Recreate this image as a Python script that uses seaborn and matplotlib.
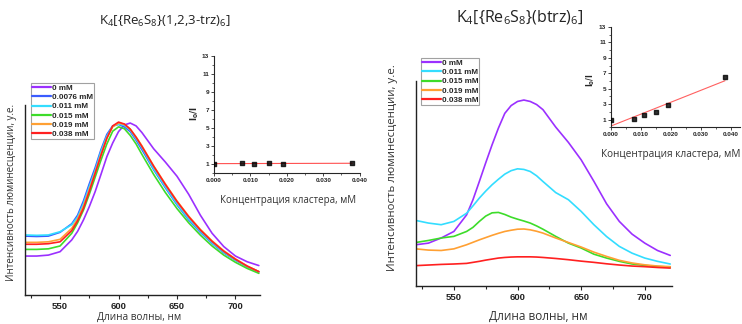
import numpy as np
import pandas as pd
import matplotlib
matplotlib.use('Agg')
import matplotlib.pyplot as plt
import seaborn as sns
from matplotlib.ticker import MultipleLocator, FormatStrFormatter

# wavelength grid, nm
nm = [520, 530, 540, 550, 560, 565, 570, 575, 580, 585, 590, 595, 600, 605,
      610, 615, 620, 630, 640, 650, 660, 670, 680, 690, 700, 710, 720]

# K4[{Re6S8}(1,2,3-trz)6] spectra, arb. units
trz_labels = ['0 mM', '0.0076 mM', '0.011 mM', '0.015 mM', '0.019 mM', '0.038 mM']
trz_0 = [.205, .205, .21, .228, .29, .335, .395, .465, .544, .635, .728, .80, .86, .895,
         .905, .89, .855, .77, .70, .625, .53, .42, .325, .255, .205, .175, .155]
trz_0076 = [.31, .308, .31, .33, .375, .42, .495, .585, .67, .765, .845, .89, .898, .885,
            .86, .815, .765, .66, .565, .475, .395, .33, .272, .222, .183, .15, .122]
trz_011 = [.316, .314, .316, .333, .37, .41, .48, .57, .655, .755, .835, .888, .90, .893,
           .868, .822, .775, .665, .57, .48, .40, .335, .275, .225, .185, .15, .122]
trz_015 = [.24, .24, .243, .258, .325, .38, .447, .53, .62, .71, .795, .862, .885, .875,
           .84, .795, .74, .635, .54, .455, .38, .315, .258, .21, .172, .14, .114]
trz_019 = [.277, .277, .28, .293, .351, .40, .468, .555, .645, .74, .825, .885, .905, .898,
           .873, .832, .785, .68, .585, .495, .415, .345, .285, .233, .19, .153, .123]
trz_038 = [.267, .267, .27, .28, .339, .39, .456, .545, .64, .735, .825, .89, .91, .9,
           .873, .83, .782, .678, .582, .492, .412, .342, .282, .23, .188, .152, .123]

# K4[{Re6S8}(btrz)6] spectra, arb. units
btrz_labels = ['0 mM', '0.011 mM', '0.015 mM', '0.019 mM', '0.038 mM']
btrz_0 = [.20, .208, .233, .265, .346, .42, .509, .60, .688, .77, .842, .88, .90, .907,
          .90, .885, .86, .775, .70, .615, .51, .40, .314, .252, .208, .172, .148]
btrz_011 = [.319, .306, .298, .314, .354, .39, .428, .462, .493, .52, .545, .562, .571, .568,
            .558, .537, .509, .455, .42, .363, .298, .24, .192, .159, .135, .119, .106]
btrz_015 = [.211, .221, .233, .241, .265, .285, .314, .34, .356, .358, .348, .335, .325, .316,
            .306, .292, .276, .241, .208, .184, .154, .135, .119, .106, .099, .094, .091]
btrz_019 = [.18, .174, .172, .18, .20, .212, .224, .235, .246, .256, .265, .271, .276, .277,
            .273, .266, .257, .233, .211, .189, .164, .143, .124, .111, .102, .096, .093]
btrz_038 = [.098, .101, .104, .106, .109, .114, .119, .125, .13, .135, .138, .14, .141, .141,
            .141, .14, .138, .133, .127, .12, .114, .107, .101, .096, .093, .089, .086]

# Stern-Volmer insets: I0/I vs cluster concentration, mM
conc = [0.0, 0.0076, 0.011, 0.015, 0.019, 0.038]
sv_trz = [1.0, 1.06, 1.05, 1.12, 1.05, 1.06]
sv_btrz = [1.0, 1.1, 1.6, 1.95, 2.85, 6.5]

pal_trz = ['#9b30ff', '#3a5cff', '#33ddff', '#3ddc2a', '#ffa033', '#ff2020']
pal_btrz = ['#9b30ff', '#33ddff', '#3ddc2a', '#ffa033', '#ff2020']


def long_df(curves, labels):
    rows = []
    for lab, vals in zip(labels, curves):
        for w, v in zip(nm, vals):
            rows.append((w, v, lab))
    return pd.DataFrame(rows, columns=['nm', 'I', 'conc'])


df_trz = long_df([trz_0, trz_0076, trz_011, trz_015, trz_019, trz_038], trz_labels)
df_btrz = long_df([btrz_0, btrz_011, btrz_015, btrz_019, btrz_038], btrz_labels)
sv = pd.DataFrame({'c': conc, 'trz': sv_trz, 'btrz': sv_btrz})

sns.set_style('ticks')
plt.rcParams['font.family'] = ['Open Sans', 'DejaVu Sans']
plt.rcParams['mathtext.default'] = 'regular'

W, H = 742, 324
fig = plt.figure(figsize=(W / 100, H / 100), dpi=100)


def px_axes(x0, y0, x1, y1):
    # pixel box -> figure axes
    return fig.add_axes([x0 / W, 1 - y1 / H, (x1 - x0) / W, (y1 - y0) / H])


def style_main(ax):
    ax.set_xlim(520, 721)
    ax.set_ylim(0, 1)
    ax.set_xlabel('')
    ax.set_ylabel('')
    ax.set_yticks([])
    ax.xaxis.set_major_locator(MultipleLocator(50))
    ax.xaxis.set_minor_locator(MultipleLocator(25))
    ax.tick_params(axis='x', which='major', length=3, width=0.8, pad=2, labelsize=6.8)
    ax.tick_params(axis='x', which='minor', length=2, width=0.8)
    for t in ax.get_xticklabels():
        t.set_fontfamily('Liberation Sans')
        t.set_fontweight('bold')
        t.set_color('#222222')
    for s in ['top', 'right']:
        ax.spines[s].set_visible(False)
    for s in ['left', 'bottom']:
        ax.spines[s].set_linewidth(1.0)
        ax.spines[s].set_color('#222222')
    ax.set_facecolor('none')


def style_inset(ax, xmax):
    ax.set_xlim(0, xmax)
    ax.set_ylim(0, 13)
    ax.set_xlabel('')
    ax.set_ylabel('')
    ax.set_yticks([1, 3, 5, 7, 9, 11, 13])
    ax.yaxis.set_minor_locator(MultipleLocator(1))
    ax.xaxis.set_major_locator(MultipleLocator(0.01))
    ax.xaxis.set_minor_locator(MultipleLocator(0.005))
    ax.xaxis.set_major_formatter(FormatStrFormatter('%.3f'))
    ax.tick_params(which='major', length=2, width=0.6, pad=1.5, labelsize=4.6)
    ax.tick_params(which='minor', length=1.2, width=0.5)
    for t in ax.get_xticklabels() + ax.get_yticklabels():
        t.set_fontfamily('Liberation Sans')
        t.set_fontweight('bold')
    for s in ['top', 'right']:
        ax.spines[s].set_visible(False)
    for s in ['left', 'bottom']:
        ax.spines[s].set_linewidth(0.8)
    ax.set_facecolor('none')


def add_legend(ax, x, y):
    handles, labels = ax.get_legend_handles_labels()
    for h in handles:
        h.set_linewidth(1.6)
    leg = ax.legend(handles, labels, loc='upper left', bbox_to_anchor=(x / W, 1 - y / H),
                    bbox_transform=fig.transFigure, frameon=True, fancybox=False,
                    edgecolor='#8a8a8a', borderpad=0.15, labelspacing=0.2,
                    handlelength=2.3, handletextpad=0.1, borderaxespad=0,
                    prop={'family': 'Liberation Sans', 'weight': 'bold', 'size': 5.8})
    leg.get_frame().set_linewidth(0.8)


# ---- left panel
axL = px_axes(25, 105, 260, 295)
sns.lineplot(data=df_trz, x='nm', y='I', hue='conc', hue_order=trz_labels,
             palette=pal_trz, lw=1.2, ax=axL)
style_main(axL)
add_legend(axL, 31, 83)

insL = px_axes(214, 56, 360, 173)
sns.regplot(data=sv, x='c', y='trz', ci=None, marker='s', ax=insL,
            scatter_kws={'color': 'black', 's': 7, 'zorder': 3},
            line_kws={'color': '#ff5050', 'lw': 0.8})
style_inset(insL, 0.0401)

# ---- right panel
axR = px_axes(415.7, 81, 671.5, 285.7)
sns.lineplot(data=df_btrz, x='nm', y='I', hue='conc', hue_order=btrz_labels,
             palette=pal_btrz, lw=1.2, ax=axR)
style_main(axR)
add_legend(axR, 421, 58)

insR = px_axes(611, 27, 740, 127.3)
sns.regplot(data=sv, x='c', y='btrz', ci=None, marker='s', ax=insR,
            scatter_kws={'color': 'black', 's': 7, 'zorder': 3},
            line_kws={'color': '#ff6060', 'lw': 0.8})
style_inset(insR, 0.0430)


# ---- texts
def ftext(x, y, s, **kw):
    fig.text(x / W, 1 - y / H, s, ha='center', va='center', **kw)


ftext(165, 21, r'K$_4$[{Re$_6$S$_8$}(1,2,3-trz)$_6$]', fontsize=9.5, color='#222222')
ftext(520, 18, r'K$_4$[{Re$_6$S$_8$}(btrz)$_6$]', fontsize=11.5, color='#222222')

ftext(12, 192, 'Интенсивность люминесценции, у.е.', fontsize=7, rotation=90, color='#333333')
ftext(393, 168, 'Интенсивность люминесценции, у.е.', fontsize=8.2, rotation=90, color='#333333')
ftext(139, 317, 'Длина волны, нм', fontsize=7.2, color='#333333')
ftext(538, 316, 'Длина волны, нм', fontsize=8.5, color='#333333')

ftext(288, 200, 'Концентрация кластера, мМ', fontsize=7, color='#333333')
ftext(671, 155, 'Концентрация кластера, мМ', fontsize=7.2, color='#333333')
ftext(195, 114, r'$\mathbf{I_0/I}$', fontsize=6, rotation=90, family='DejaVu Sans')
ftext(591, 80, r'$\mathbf{I_0/I}$', fontsize=5.5, rotation=90, family='DejaVu Sans')

fig.savefig('out.png', dpi=100)
